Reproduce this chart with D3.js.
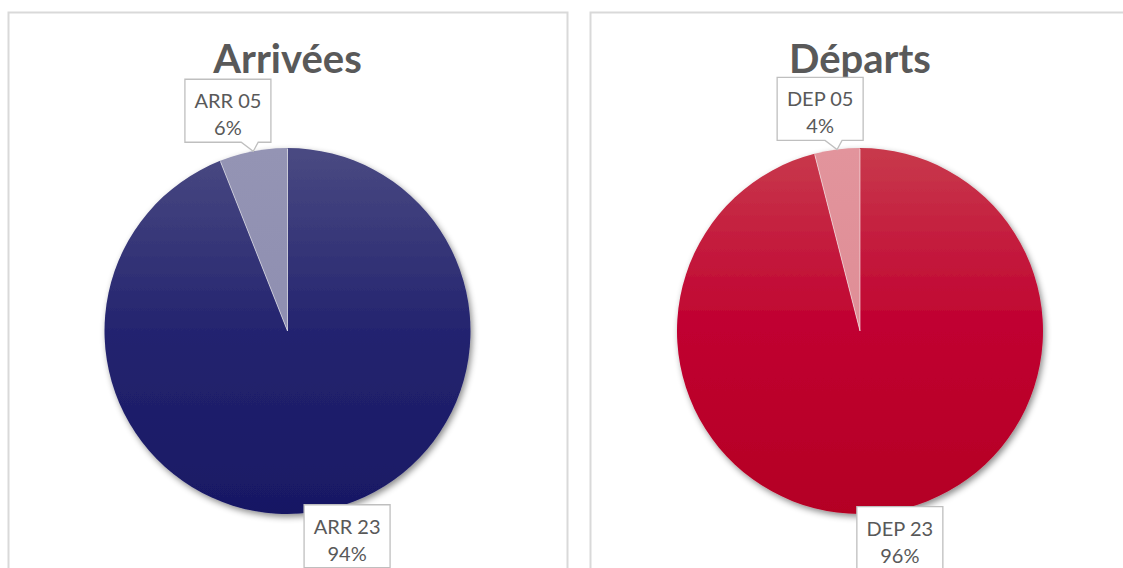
<!DOCTYPE html>
<html>
<head>
<meta charset="utf-8">
<script src="https://cdn.jsdelivr.net/npm/d3@7"></script>
<style>
  body { margin: 0; background: #fff; }
  text { font-family: Lato, "Open Sans", sans-serif; fill: #595959; }
</style>
</head>
<body>
<div id="chart"></div>
<script>
// data
var titles = ["Arrivées", "Départs"];
var arrLabels = ["ARR 23", "ARR 05"];
var arrValues = [94, 6];
var depLabels = ["DEP 23", "DEP 05"];
var depValues = [96, 4];

var W = 1123, H = 568;
var svg = d3.select("#chart").append("svg")
	.attr("width", W)
	.attr("height", H);

var defs = svg.append("defs");
var shadow = defs.append("filter").attr("id", "shadow")
	.attr("x", "-10%").attr("y", "-10%").attr("width", "125%").attr("height", "125%");
shadow.append("feDropShadow")
	.attr("dx", 2).attr("dy", 3).attr("stdDeviation", 3)
	.attr("flood-color", "#000").attr("flood-opacity", 0.45);

var panels = [
	{x: 8, w: 559, title: titles[0], labels: arrLabels, values: arrValues,
	 big: ["#4a4a82", "#24246f", "#181864"], small: ["#9494b4", "#8a8aae"]},
	{x: 590, w: 540, title: titles[1], labels: depLabels, values: depValues,
	 big: ["#c83a4c", "#c00030", "#b40024"], small: ["#e2949c", "#dc8790"]}
];

var r = 183;
var cy = 331;

panels.forEach(function(p, pi){
	var g = svg.append("g");
	g.append("rect")
		.attr("x", p.x + 0.5).attr("y", 12.5)
		.attr("width", p.w).attr("height", H)
		.attr("fill", "#fff")
		.attr("stroke", "#d9d9d9").attr("stroke-width", 2);

	var cx = p.x + p.w / 2;

	g.append("text")
		.attr("x", cx).attr("y", 73)
		.attr("text-anchor", "middle")
		.style("font-size", "40px").style("font-weight", "bold")
		.text(p.title);

	// gradients (in the pie group's coordinates)
	[p.big, p.small].forEach(function(cols, k){
		var grad = defs.append("linearGradient")
			.attr("id", "grad" + pi + "_" + k)
			.attr("gradientUnits", "userSpaceOnUse")
			.attr("x1", 0).attr("y1", -r).attr("x2", 0).attr("y2", r);
		cols.forEach(function(c, i){
			grad.append("stop")
				.attr("offset", i / (cols.length - 1))
				.attr("stop-color", c);
		});
	});

	var pie = d3.pie().sort(null).value(function(d){ return d; });
	var arcs = pie(p.values);
	var arc = d3.arc().innerRadius(0).outerRadius(r);
	var total = d3.sum(p.values);

	var pg = g.append("g").attr("transform", "translate(" + cx + "," + cy + ")");
	pg.append("g").attr("filter", "url(#shadow)")
		.selectAll("path").data(arcs).enter().append("path")
		.attr("d", arc)
		.attr("fill", function(d, i){ return "url(#grad" + pi + "_" + i + ")"; });

	// thin white separators between slices
	pg.selectAll("line.sep").data(arcs).enter().append("line")
		.attr("class", "sep")
		.attr("x1", 0).attr("y1", 0)
		.attr("x2", function(d){ return Math.sin(d.startAngle) * (r - 1); })
		.attr("y2", function(d){ return -Math.cos(d.startAngle) * (r - 1); })
		.attr("stroke", "#fff").attr("stroke-opacity", 0.7).attr("stroke-width", 0.8);

	// callout labels
	var bw = 86, bh = 63;
	arcs.forEach(function(a, i){
		var mid = (a.startAngle + a.endAngle) / 2;
		var tx = Math.sin(mid) * r, ty = -Math.cos(mid) * r;
		var bx = Math.sin(mid) * (r + 135) - bw / 2;
		var top = ty < 0;
		var by = top ? ty - 9 - bh : ty - 6;
		var lg = pg.append("g");
		var path;
		if (top) {
			var b1 = Math.max(bx + 4, tx - 12), b2 = Math.min(bx + bw - 4, tx + 5);
			path = "M" + bx + "," + by + "H" + (bx + bw) + "V" + (by + bh) +
				"H" + b2 + "L" + tx + "," + ty + "L" + b1 + "," + (by + bh) +
				"H" + bx + "Z";
		} else {
			path = "M" + bx + "," + by + "H" + (bx + bw) + "V" + (by + bh) + "H" + bx + "Z";
		}
		lg.append("path").attr("d", path)
			.attr("fill", "#fff").attr("stroke", "#bfbfbf").attr("stroke-width", 1.3);
		lg.append("text")
			.attr("x", bx + bw / 2).attr("y", by + 29)
			.attr("text-anchor", "middle").style("font-size", "20px")
			.text(p.labels[i]);
		lg.append("text")
			.attr("x", bx + bw / 2).attr("y", by + 56)
			.attr("text-anchor", "middle").style("font-size", "20px")
			.text(Math.round(p.values[i] / total * 100) + "%");
	});
});
</script>
</body>
</html>
